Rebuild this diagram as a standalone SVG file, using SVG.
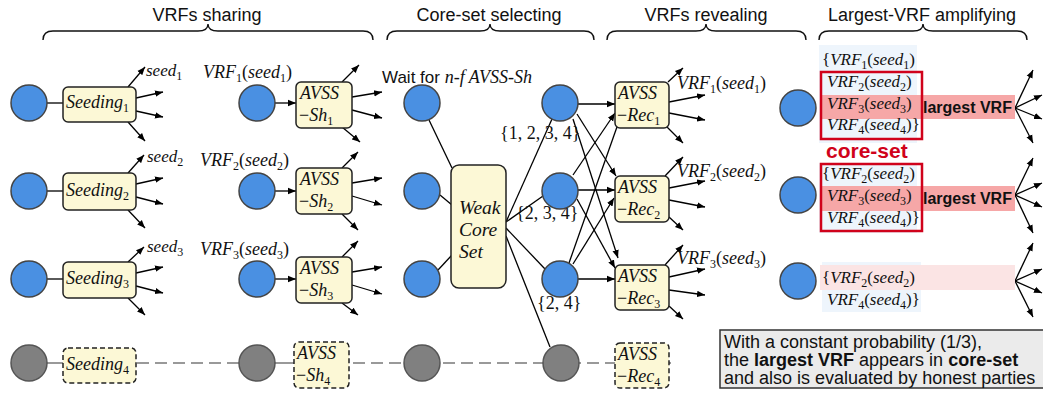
<svg xmlns="http://www.w3.org/2000/svg" width="1043" height="394" viewBox="0 0 1043 394">
<defs>
<marker id="ah" viewBox="0 0 10 10" refX="10" refY="5" markerWidth="8" markerHeight="8" markerUnits="userSpaceOnUse" orient="auto"><path d="M0,1 L10,5 L0,9 z" fill="#000"/></marker>
<style>
.hd{font-family:"Liberation Sans",Arial,sans-serif;font-size:18px;fill:#111}
.sans{font-family:"Liberation Sans",Arial,sans-serif;font-size:17px;fill:#111}
.m{font-family:"Liberation Serif","Times New Roman",serif;font-style:italic;font-size:18px;fill:#111}
.mr{font-family:"Liberation Serif","Times New Roman",serif;font-style:italic;font-size:17px;fill:#111}
.sb{font-style:normal;font-size:12px}
.up{font-style:normal}
.brace{fill:none;stroke:#111;stroke-width:1.4}
.cb{fill:#4a90e2;stroke:#444;stroke-width:1.5}
.cg{fill:#808080;stroke:#555;stroke-width:1.5}
.bx{fill:#fcf8d6;stroke:#222;stroke-width:1.5}
.bxd{fill:#fcf8d6;stroke:#222;stroke-width:1.5;stroke-dasharray:5 3}
.ln{stroke:#000;stroke-width:1.3;fill:none}
.ar{stroke:#000;stroke-width:1.3;fill:none;marker-end:url(#ah)}
.gl{stroke:#999;stroke-width:2;stroke-dasharray:12 6;fill:none}
.lb{fill:#eef5fc}
.pk{fill:#f6a7a7}
.pkl{fill:#fbe4e4}
.rb{fill:none;stroke:#d0021b;stroke-width:2.5}
.big{font-family:"Liberation Sans",Arial,sans-serif;font-size:16px;font-weight:bold;fill:#111}
.cs{font-family:"Liberation Sans",Arial,sans-serif;font-size:21px;font-weight:bold;fill:#d0021b}
.nt{font-family:"Liberation Sans",Arial,sans-serif;font-size:18px;fill:#111}
</style>
</defs>

<g id="headers">
<text class="hd" x="207" y="21" text-anchor="middle">VRFs sharing</text>
<text class="hd" x="489" y="21" text-anchor="middle">Core-set selecting</text>
<text class="hd" x="706" y="21" text-anchor="middle">VRFs revealing</text>
<text class="hd" x="922" y="21" text-anchor="middle">Largest-VRF amplifying</text>
<path class="brace" d="M43,40 Q43,31 53,31 L198,31 Q208,31 208,24 Q208,31 218,31 L363,31 Q373,31 373,40"/>
<path class="brace" d="M387,40 Q387,31 397,31 L480,31 Q490,31 490,24 Q490,31 500,31 L584,31 Q594,31 594,40"/>
<path class="brace" d="M607,40 Q607,31 617,31 L696,31 Q706,31 706,24 Q706,31 716,31 L796,31 Q806,31 806,40"/>
<path class="brace" d="M819,40 Q819,31 829,31 L913,31 Q923,31 923,24 Q923,31 933,31 L1017,31 Q1027,31 1027,40"/>
</g>

<g id="connectors">
<line class="gl" x1="29" y1="363" x2="676" y2="363"/>
<line class="ln" x1="47" y1="103" x2="63" y2="103"/>
<line class="ln" x1="47" y1="191" x2="63" y2="191"/>
<line class="ln" x1="47" y1="279" x2="63" y2="279"/>
<line class="ln" x1="47" y1="363" x2="63" y2="363" style="stroke:#999;stroke-width:2"/>
<line class="ar" x1="128" y1="87" x2="145" y2="67"/>
<line class="ar" x1="136" y1="98" x2="163" y2="92"/>
<line class="ar" x1="136" y1="111" x2="163" y2="117"/>
<line class="ar" x1="128" y1="122" x2="145" y2="141"/>
<line class="ar" x1="128" y1="173" x2="144" y2="155"/>
<line class="ar" x1="136" y1="184" x2="163" y2="178"/>
<line class="ar" x1="136" y1="197" x2="163" y2="204"/>
<line class="ar" x1="128" y1="210" x2="145" y2="228"/>
<line class="ar" x1="128" y1="262" x2="144" y2="247"/>
<line class="ar" x1="136" y1="273" x2="163" y2="267"/>
<line class="ar" x1="136" y1="286" x2="163" y2="293"/>
<line class="ar" x1="128" y1="298" x2="145" y2="315"/>
<line class="ar" x1="275" y1="103" x2="296" y2="103"/>
<line class="ar" x1="275" y1="191" x2="296" y2="191"/>
<line class="ar" x1="275" y1="279" x2="296" y2="279"/>
<line class="ln" x1="275" y1="363" x2="294" y2="363" style="stroke:#999;stroke-width:2"/>
<line class="ar" x1="342" y1="82" x2="359" y2="65"/>
<line class="ar" x1="352" y1="97" x2="382" y2="92"/>
<line class="ar" x1="352" y1="110" x2="382" y2="118"/>
<line class="ar" x1="342" y1="127" x2="360" y2="142"/>
<line class="ar" x1="342" y1="168" x2="358" y2="152"/>
<line class="ar" x1="352" y1="183" x2="382" y2="178"/>
<line class="ar" x1="352" y1="196" x2="382" y2="205"/>
<line class="ar" x1="342" y1="214" x2="358" y2="230"/>
<line class="ar" x1="342" y1="257" x2="358" y2="241"/>
<line class="ar" x1="352" y1="272" x2="382" y2="267"/>
<line class="ar" x1="352" y1="285" x2="382" y2="294"/>
<line class="ar" x1="342" y1="303" x2="358" y2="315"/>
<line class="ln" x1="429" y1="120" x2="452" y2="168"/>
<line class="ln" x1="440" y1="195" x2="452" y2="205"/>
<line class="ln" x1="438" y1="270" x2="452" y2="255"/>
<line class="ln" x1="506" y1="222" x2="552" y2="119"/>
<line class="ln" x1="506" y1="222" x2="543" y2="196"/>
<line class="ln" x1="506" y1="228" x2="545" y2="269"/>
<line class="ln" x1="506" y1="236" x2="550" y2="347"/>
<line class="ar" x1="578" y1="104" x2="615" y2="104"/>
<line class="ar" x1="577" y1="114" x2="616" y2="176"/>
<line class="ar" x1="573" y1="119" x2="618" y2="258"/>
<line class="ar" x1="573" y1="175" x2="615" y2="113"/>
<line class="ar" x1="578" y1="190" x2="615" y2="190"/>
<line class="ar" x1="577" y1="199" x2="615" y2="268"/>
<line class="ln" x1="569" y1="263" x2="618" y2="124"/>
<line class="ar" x1="573" y1="264" x2="614" y2="198"/>
<line class="ar" x1="578" y1="279" x2="615" y2="279"/>
<line class="ar" x1="668" y1="82" x2="683" y2="68"/>
<line class="ar" x1="669" y1="102" x2="705" y2="95"/>
<line class="ar" x1="669" y1="113" x2="705" y2="120"/>
<line class="ar" x1="667" y1="127" x2="683" y2="143"/>
<line class="ar" x1="665" y1="176" x2="683" y2="157"/>
<line class="ar" x1="669" y1="188" x2="705" y2="181"/>
<line class="ar" x1="669" y1="200" x2="705" y2="207"/>
<line class="ar" x1="669" y1="217" x2="683" y2="230"/>
<line class="ar" x1="665" y1="265" x2="683" y2="245"/>
<line class="ar" x1="669" y1="277" x2="705" y2="269"/>
<line class="ar" x1="669" y1="290" x2="705" y2="295"/>
<line class="ar" x1="669" y1="306" x2="683" y2="319"/>
<line class="ar" x1="1015" y1="108" x2="1033" y2="70"/>
<line class="ar" x1="1015" y1="108" x2="1042" y2="95"/>
<line class="ar" x1="1015" y1="108" x2="1042" y2="119"/>
<line class="ar" x1="1015" y1="108" x2="1033" y2="143"/>
<line class="ar" x1="1015" y1="195" x2="1033" y2="158"/>
<line class="ar" x1="1015" y1="195" x2="1042" y2="183"/>
<line class="ar" x1="1015" y1="195" x2="1042" y2="207"/>
<line class="ar" x1="1015" y1="195" x2="1033" y2="233"/>
<line class="ar" x1="1015" y1="281" x2="1033" y2="243"/>
<line class="ar" x1="1015" y1="281" x2="1042" y2="269"/>
<line class="ar" x1="1015" y1="281" x2="1042" y2="293"/>
<line class="ar" x1="1015" y1="281" x2="1033" y2="317"/>
</g>

<g id="labels">
<text class="mr" x="146" y="76">seed<tspan class="sb" dy="4">1</tspan></text>
<text class="mr" x="147" y="162">seed<tspan class="sb" dy="4">2</tspan></text>
<text class="mr" x="147" y="252">seed<tspan class="sb" dy="4">3</tspan></text>
<text class="m" x="203" y="78">VRF<tspan class="sb" dy="4">1</tspan><tspan class="up" dy="-4">(</tspan>seed<tspan class="sb" dy="4">1</tspan><tspan class="up" dy="-4">)</tspan></text>
<text class="m" x="200" y="166">VRF<tspan class="sb" dy="4">2</tspan><tspan class="up" dy="-4">(</tspan>seed<tspan class="sb" dy="4">2</tspan><tspan class="up" dy="-4">)</tspan></text>
<text class="m" x="200" y="255">VRF<tspan class="sb" dy="4">3</tspan><tspan class="up" dy="-4">(</tspan>seed<tspan class="sb" dy="4">3</tspan><tspan class="up" dy="-4">)</tspan></text>
<text x="382" y="83"><tspan class="sans">Wait for </tspan><tspan class="m">n-f AVSS-Sh</tspan></text>
<text class="m up" x="500" y="139" style="font-style:normal">{1, 2, 3, 4}</text>
<text class="m up" x="516" y="219" style="font-style:normal">{2, 3, 4}</text>
<text class="m up" x="537" y="309" style="font-style:normal">{2, 4}</text>
<text class="m" x="677" y="89">VRF<tspan class="sb" dy="4">1</tspan><tspan class="up" dy="-4">(</tspan>seed<tspan class="sb" dy="4">1</tspan><tspan class="up" dy="-4">)</tspan></text>
<text class="m" x="677" y="177">VRF<tspan class="sb" dy="4">2</tspan><tspan class="up" dy="-4">(</tspan>seed<tspan class="sb" dy="4">2</tspan><tspan class="up" dy="-4">)</tspan></text>
<text class="m" x="677" y="264">VRF<tspan class="sb" dy="4">3</tspan><tspan class="up" dy="-4">(</tspan>seed<tspan class="sb" dy="4">3</tspan><tspan class="up" dy="-4">)</tspan></text>
</g>

<g id="row1">
<circle class="cb" cx="29" cy="103" r="18"/>
<rect class="bx" x="63" y="87" width="73" height="35" rx="5"/>
<text class="m" x="66" y="108">Seeding<tspan class="sb" dy="4">1</tspan></text>
<circle class="cb" cx="257" cy="103" r="18"/>
<rect class="bx" x="296" y="82" width="56" height="46" rx="5"/>
<text class="m" x="300" y="99">AVSS</text>
<text class="m" x="299" y="121"><tspan class="up">−</tspan>Sh<tspan class="sb" dy="4">1</tspan></text>
<circle class="cb" cx="422" cy="103" r="18"/>
<circle class="cb" cx="560" cy="103" r="18"/>
<rect class="bx" x="615" y="82" width="54" height="46" rx="5"/>
<text class="m" x="618" y="99">AVSS</text>
<text class="m" x="617" y="121"><tspan class="up">−</tspan>Rec<tspan class="sb" dy="4">1</tspan></text>
<circle class="cb" cx="798" cy="108" r="18"/>
</g>

<g id="row2">
<circle class="cb" cx="29" cy="191" r="18"/>
<rect class="bx" x="63" y="173" width="73" height="37" rx="5"/>
<text class="m" x="66" y="196">Seeding<tspan class="sb" dy="4">2</tspan></text>
<circle class="cb" cx="257" cy="191" r="18"/>
<rect class="bx" x="296" y="168" width="56" height="46" rx="5"/>
<text class="m" x="300" y="185">AVSS</text>
<text class="m" x="299" y="207"><tspan class="up">−</tspan>Sh<tspan class="sb" dy="4">2</tspan></text>
<circle class="cb" cx="422" cy="191" r="18"/>
<circle class="cb" cx="560" cy="191" r="18"/>
<rect class="bx" x="615" y="176" width="54" height="46" rx="5"/>
<text class="m" x="618" y="193">AVSS</text>
<text class="m" x="617" y="215"><tspan class="up">−</tspan>Rec<tspan class="sb" dy="4">2</tspan></text>
<circle class="cb" cx="798" cy="195" r="18"/>
</g>

<g id="row3">
<circle class="cb" cx="29" cy="279" r="18"/>
<rect class="bx" x="63" y="262" width="73" height="36" rx="5"/>
<text class="m" x="66" y="284">Seeding<tspan class="sb" dy="4">3</tspan></text>
<circle class="cb" cx="257" cy="279" r="18"/>
<rect class="bx" x="296" y="257" width="56" height="46" rx="5"/>
<text class="m" x="300" y="274">AVSS</text>
<text class="m" x="299" y="296"><tspan class="up">−</tspan>Sh<tspan class="sb" dy="4">3</tspan></text>
<circle class="cb" cx="422" cy="279" r="18"/>
<circle class="cb" cx="560" cy="279" r="18"/>
<rect class="bx" x="615" y="265" width="54" height="45" rx="5"/>
<text class="m" x="618" y="282">AVSS</text>
<text class="m" x="617" y="304"><tspan class="up">−</tspan>Rec<tspan class="sb" dy="4">3</tspan></text>
<circle class="cb" cx="798" cy="281" r="18"/>
</g>

<g id="row4">
<circle class="cg" cx="29" cy="363" r="18"/>
<rect class="bxd" x="63" y="348" width="73" height="35" rx="5"/>
<text class="m" x="66" y="370">Seeding<tspan class="sb" dy="4">4</tspan></text>
<circle class="cg" cx="257" cy="363" r="18"/>
<rect class="bxd" x="294" y="342" width="55" height="46" rx="5"/>
<text class="m" x="297" y="359">AVSS</text>
<text class="m" x="296" y="381"><tspan class="up">−</tspan>Sh<tspan class="sb" dy="4">4</tspan></text>
<circle class="cg" cx="422" cy="363" r="18"/>
<circle class="cg" cx="561" cy="363" r="18"/>
<rect class="bxd" x="615" y="343" width="54" height="45" rx="5"/>
<text class="m" x="618" y="360">AVSS</text>
<text class="m" x="617" y="382"><tspan class="up">−</tspan>Rec<tspan class="sb" dy="4">4</tspan></text>
</g>

<g id="weak-core-set">
<rect class="bx" x="451" y="165" width="55" height="123" rx="8"/>
<text class="m" x="459" y="214" style="font-size:19.5px">Weak</text>
<text class="m" x="459" y="236" style="font-size:19.5px">Core</text>
<text class="m" x="459" y="258" style="font-size:19.5px">Set</text>
</g>

<g id="set1">
<rect class="lb" x="819" y="45" width="98" height="98"/>
<rect class="pk" x="821" y="95" width="194" height="24"/>
<text class="mr" x="822" y="65"><tspan class="up">{</tspan>VRF<tspan class="sb" dy="4">1</tspan><tspan class="up" dy="-4">(</tspan>seed<tspan class="sb" dy="4">1</tspan><tspan class="up" dy="-4">)</tspan></text>
<text class="mr" x="827" y="87">VRF<tspan class="sb" dy="4">2</tspan><tspan class="up" dy="-4">(</tspan>seed<tspan class="sb" dy="4">2</tspan><tspan class="up" dy="-4">)</tspan></text>
<text class="mr" x="827" y="109">VRF<tspan class="sb" dy="4">3</tspan><tspan class="up" dy="-4">(</tspan>seed<tspan class="sb" dy="4">3</tspan><tspan class="up" dy="-4">)</tspan></text>
<text class="mr" x="827" y="130">VRF<tspan class="sb" dy="4">4</tspan><tspan class="up" dy="-4">(</tspan>seed<tspan class="sb" dy="4">4</tspan><tspan class="up" dy="-4">)}</tspan></text>
<rect class="rb" x="821" y="72" width="101" height="67"/>
<text class="big" x="923" y="113">largest VRF</text>
<text class="cs" x="826" y="158">core-set</text>
</g>

<g id="set2">
<rect class="lb" x="819" y="163" width="98" height="70"/>
<rect class="pk" x="821" y="186" width="194" height="25"/>
<text class="mr" x="822" y="179"><tspan class="up">{</tspan>VRF<tspan class="sb" dy="4">2</tspan><tspan class="up" dy="-4">(</tspan>seed<tspan class="sb" dy="4">2</tspan><tspan class="up" dy="-4">)</tspan></text>
<text class="mr" x="827" y="201">VRF<tspan class="sb" dy="4">3</tspan><tspan class="up" dy="-4">(</tspan>seed<tspan class="sb" dy="4">3</tspan><tspan class="up" dy="-4">)</tspan></text>
<text class="mr" x="827" y="223">VRF<tspan class="sb" dy="4">4</tspan><tspan class="up" dy="-4">(</tspan>seed<tspan class="sb" dy="4">4</tspan><tspan class="up" dy="-4">)}</tspan></text>
<rect class="rb" x="821" y="164" width="101" height="67"/>
<text class="big" x="923" y="204">largest VRF</text>
</g>

<g id="set3">
<rect class="lb" x="822" y="262" width="99" height="50"/>
<rect class="pkl" x="820" y="265" width="195" height="25"/>
<text class="mr" x="822" y="283"><tspan class="up">{</tspan>VRF<tspan class="sb" dy="4">2</tspan><tspan class="up" dy="-4">(</tspan>seed<tspan class="sb" dy="4">2</tspan><tspan class="up" dy="-4">)</tspan></text>
<text class="mr" x="827" y="305">VRF<tspan class="sb" dy="4">4</tspan><tspan class="up" dy="-4">(</tspan>seed<tspan class="sb" dy="4">4</tspan><tspan class="up" dy="-4">)}</tspan></text>
</g>

<g id="note">
<rect x="720" y="330" width="330" height="58" fill="#ebebeb" stroke="#333" stroke-width="1.5"/>
<text class="nt" x="724" y="348">With a constant probability (1/3),</text>
<text class="nt" x="724" y="366">the <tspan font-weight="bold">largest VRF</tspan> appears in <tspan font-weight="bold">core-set</tspan></text>
<text class="nt" x="724" y="384">and also is evaluated by honest parties</text>
</g>
</svg>
